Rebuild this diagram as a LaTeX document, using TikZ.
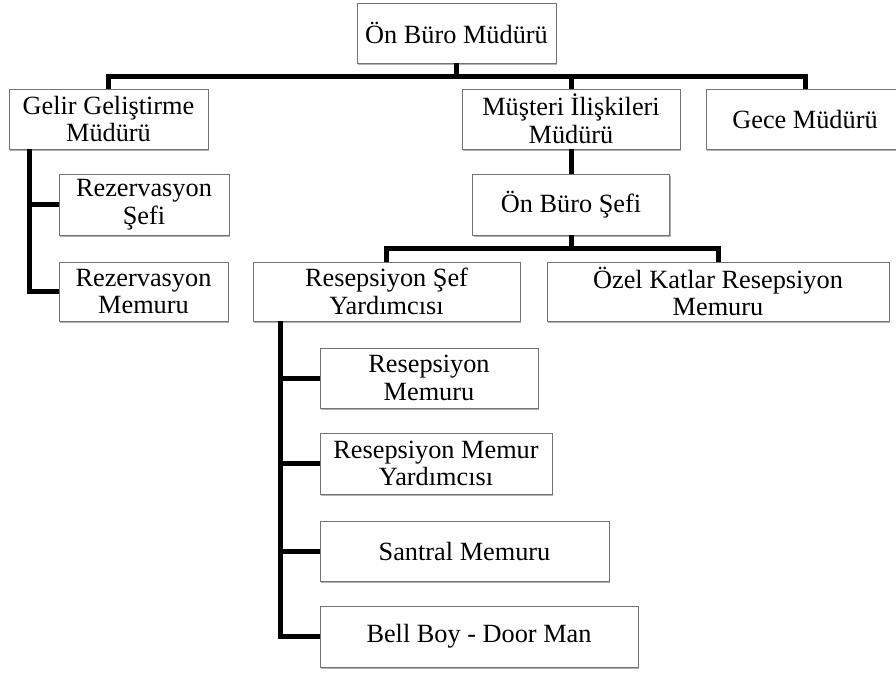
\documentclass[tikz,border=0pt]{standalone}
\usepackage{fontspec}
\setmainfont{Liberation Serif}
\usetikzlibrary{shadows}
\begin{document}
\begin{tikzpicture}[x=1pt,y=-1pt,
  box/.style={draw=black!55, fill=white, line width=0.8pt, inner sep=0pt, align=center,
    font=\fontsize{26.3}{27.5}\selectfont,
    drop shadow={shadow xshift=1pt, shadow yshift=-2pt, fill=black, opacity=0.3}},
  conn/.style={line width=5pt, black}]
\useasboundingbox (0,0) rectangle (896,673);
\node[box, minimum width=199pt, minimum height=60pt] (top) at (456.5,33) {Ön Büro Müdürü};
\node[box, minimum width=199pt, minimum height=60pt] (gelir) at (108.5,119) {Gelir Geliştirme\\Müdürü};
\node[box, minimum width=218pt, minimum height=60pt] (mus) at (571,119) {Müşteri İlişkileri\\Müdürü};
\node[box, minimum width=198pt, minimum height=60pt] (gece) at (805,119) {Gece Müdürü};
\node[box, minimum width=170pt, minimum height=61pt] (rs) at (144,204.5) {Rezervasyon\\Şefi};
\node[box, minimum width=169pt, minimum height=59pt] (rm) at (143.5,291.5) {Rezervasyon\\Memuru};
\node[box, minimum width=197pt, minimum height=61pt] (obs) at (571,204.5) {Ön Büro Şefi};
\node[box, minimum width=267pt, minimum height=59pt] (rsy) at (386.5,291.5) {Resepsiyon Şef\\Yardımcısı};
\node[box, minimum width=342pt, minimum height=59pt] (ozel) at (718,291.5) {Özel Katlar Resepsiyon\\Memuru};
\node[box, minimum width=218pt, minimum height=60pt] (c1) at (429,378) {Resepsiyon\\Memuru};
\node[box, minimum width=232pt, minimum height=61pt] (c2) at (436,463.5) {Resepsiyon Memur\\Yardımcısı};
\node[box, minimum width=289pt, minimum height=60pt] (c3) at (464.5,551) {Santral Memuru};
\node[box, minimum width=318pt, minimum height=61pt] (c4) at (479,636.5) {Bell Boy - Door Man};
% connectors
\coordinate (b1) at (456.5,76);
\draw[conn] (top.south) -- (b1);
\draw[conn] (b1) -| (gelir.north);
\draw[conn] (b1) -| (mus.north);
\draw[conn] (b1) -| (gece.north);
\draw[conn] (mus.south) -- (obs.north);
\coordinate (b2) at (571,248);
\draw[conn] (obs.south) -- (b2);
\draw[conn] (b2) -| (rsy.north);
\draw[conn] (b2) -| (ozel.north);
\coordinate (gt) at (29,149);
\draw[conn] (gt) |- (rs.west);
\draw[conn] (gt) |- (rm.west);
\coordinate (rt) at (280,321);
\draw[conn] (rt) |- (c1.west);
\draw[conn] (rt) |- (c2.west);
\draw[conn] (rt) |- (c3.west);
\draw[conn] (rt) |- (c4.west);
\end{tikzpicture}
\end{document}
